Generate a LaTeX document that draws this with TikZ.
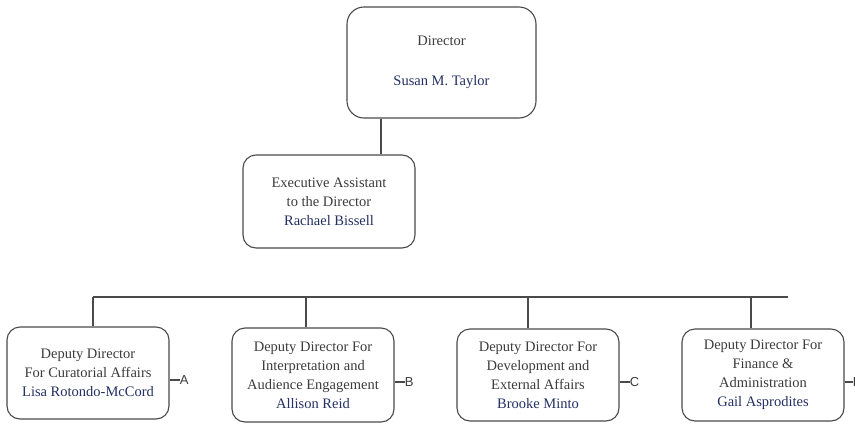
\documentclass[tikz,border=0pt]{standalone}
\usepackage{fontspec}
\setmainfont{Liberation Serif}
\setsansfont{Liberation Sans}
\usetikzlibrary{positioning}
\definecolor{titlegray}{HTML}{3C3C3C}
\definecolor{namenavy}{HTML}{243063}
\definecolor{boxgray}{HTML}{4A4A4A}
\tikzstyle{unit} = [rectangle, rounded corners=13pt, text centered, align=center, draw=boxgray, line width=1.1pt, text=titlegray, font=\fontsize{14.5}{19}\selectfont]
\tikzstyle{director} = [unit, rounded corners=17pt, minimum width=189pt, minimum height=111pt]
\tikzstyle{assist} = [unit, minimum width=172pt, minimum height=93pt]
\tikzstyle{deputy} = [unit, minimum width=162pt, minimum height=92pt]
\tikzstyle{tag} = [inner sep=0pt, anchor=west, text=titlegray, font=\sffamily\fontsize{13}{13}\selectfont]
\tikzstyle{wire} = [draw=boxgray, line width=1.1pt]
\newcommand{\who}[1]{\textcolor{namenavy}{#1}}

\begin{document}
\begin{tikzpicture}[x=1pt, y=-1pt, node distance=225pt]
    \useasboundingbox [fill=white] (0,0) rectangle (855,426);

    \node (dir) [director] at (441.5,62.5) {Director\\[21pt]\who{Susan M. Taylor}};
    \node (exa) [assist] at (329,201.5) {Executive Assistant\\to the Director\\\who{Rachael Bissell}};

    \node (dda) [deputy] at (88,373) {Deputy Director\\For Curatorial Affairs\\\who{Lisa Rotondo-McCord}};
    \node (ddb) [deputy, right of=dda, yshift=-2pt, minimum height=94pt] {Deputy Director For\\Interpretation and\\Audience Engagement\\\who{Allison Reid}};
    \node (ddc) [deputy, right of=ddb] {Deputy Director For\\Development and\\External Affairs\\\who{Brooke Minto}};
    \node (ddd) [deputy, right of=ddc] {Deputy Director For\\Finance \&\\Administration\\\who{Gail Asprodites}};

    \node (taga) [tag] at ([xshift=10pt, yshift=-7pt]dda.east) {A};
    \node (tagb) [tag] at ([xshift=10pt, yshift=-7pt]ddb.east) {B};
    \node (tagc) [tag] at ([xshift=10pt, yshift=-7pt]ddc.east) {C};
    \node (tagd) [tag] at ([xshift=8pt, yshift=-7pt]ddd.east) {D};

    % top part
    \coordinate (drop) at (381,0);
    \draw [wire] (dir.south -| drop) -- (exa.north -| drop);

    % bar over the deputies
    \coordinate (bara) at (93,297);
    \coordinate (barb) at (306,297);
    \coordinate (barc) at (528,297);
    \coordinate (bard) at (751,297);
    \coordinate (bare) at (788,297);
    \draw [wire] (bara) -- (bare);
    \draw [wire] (bara) -- (dda.north -| bara);
    \draw [wire] (barb) -- (ddb.north -| barb);
    \draw [wire] (barc) -- (ddc.north -| barc);
    \draw [wire] (bard) -- (ddd.north -| bard);

    \draw [wire] (dda.east |- taga) -- (taga);
    \draw [wire] (ddb.east |- tagb) -- (tagb);
    \draw [wire] (ddc.east |- tagc) -- (tagc);
    \draw [wire] (ddd.east |- tagd) -- (tagd);
\end{tikzpicture}
\end{document}
